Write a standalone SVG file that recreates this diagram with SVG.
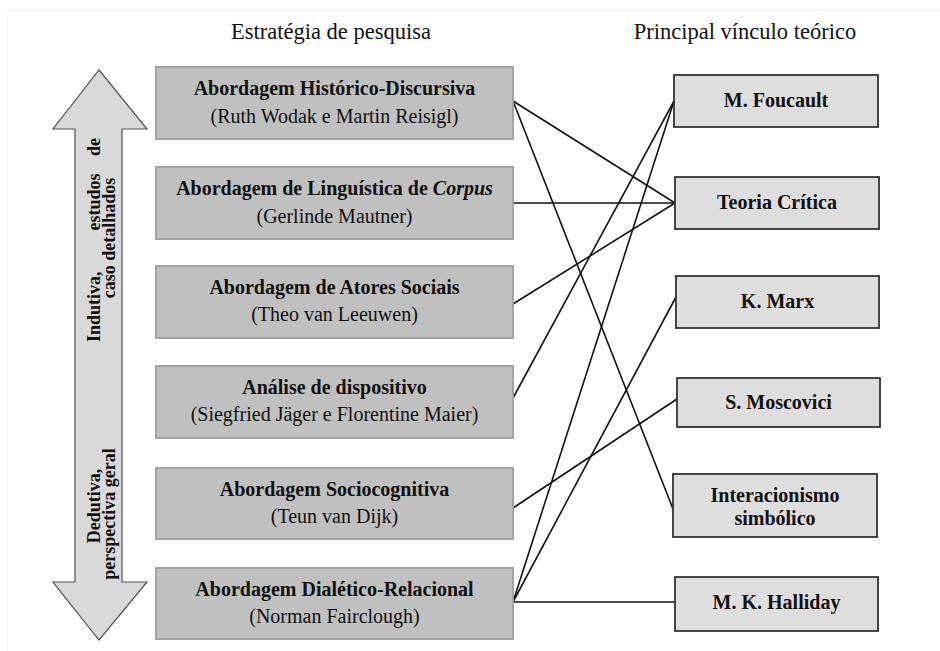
<svg xmlns="http://www.w3.org/2000/svg" width="940" height="651" viewBox="0 0 940 651">
<style>
  .hdr { font-family: "Liberation Serif", "Times New Roman", serif; font-size: 22.5px; fill: #111; text-anchor: middle; }
  .lbox { fill: #c0c0c0; stroke: #a3a3a3; stroke-width: 2; }
  .rbox { fill: #dedede; stroke: #333; stroke-width: 1.8; }
  .b { font-family: "Liberation Serif", "Times New Roman", serif; font-size: 20px; font-weight: bold; fill: #111; text-anchor: middle; }
  .r { font-family: "Liberation Serif", "Times New Roman", serif; font-size: 20px; fill: #111; text-anchor: middle; }
  .at { font-family: "Liberation Serif", "Times New Roman", serif; font-size: 18px; font-weight: bold; fill: #111; }
  .conn line { stroke: #111; stroke-width: 1.6; }
</style>
<rect width="940" height="651" fill="#fff"/>
<line x1="7.5" y1="10.5" x2="940" y2="10.5" stroke="#f2f2f2" stroke-width="1"/>
<line x1="7.5" y1="10.5" x2="7.5" y2="651" stroke="#f2f2f2" stroke-width="1"/>

<text class="hdr" x="331" y="39">Estratégia de pesquisa</text>
<text class="hdr" x="745" y="39">Principal vínculo teórico</text>

<g id="arrow">
  <polygon points="99,70 147,129 122,129 122,582 147,582 99,640 53,582 75,582 75,129 53,129" fill="#d9d9d9" stroke="#555" stroke-width="1.2"/>
  <g transform="translate(100,240) rotate(-90)">
    <text class="at" x="-102" y="0" text-anchor="start">Indutiva,</text>
    <text class="at" x="38" y="0" text-anchor="middle">estudos</text>
    <text class="at" x="102" y="0" text-anchor="end">de</text>
  </g>
  <text class="at" text-anchor="middle" transform="translate(115,238) rotate(-90)">caso detalhados</text>
  <text class="at" text-anchor="middle" transform="translate(100,506) rotate(-90)">Dedutiva,</text>
  <text class="at" text-anchor="middle" transform="translate(115,514) rotate(-90)">perspectiva geral</text>
</g>

<g class="conn" id="connectors">
  <line x1="513" y1="101" x2="675" y2="203"/>
  <line x1="513" y1="101" x2="673" y2="509"/>
  <line x1="513" y1="203" x2="675" y2="203"/>
  <line x1="513" y1="304" x2="675" y2="203"/>
  <line x1="513" y1="398" x2="674" y2="101"/>
  <line x1="513" y1="508" x2="677" y2="399"/>
  <line x1="513" y1="602" x2="674" y2="101"/>
  <line x1="513" y1="602" x2="676" y2="297"/>
  <line x1="513" y1="602" x2="675" y2="602"/>
</g>

<g id="s1"><rect class="lbox" x="156" y="67" width="357" height="72"/>
  <text class="b" x="334.5" y="95">Abordagem Histórico-Discursiva</text>
  <text class="r" x="334.5" y="123">(Ruth Wodak e Martin Reisigl)</text></g>
<g id="s2"><rect class="lbox" x="156" y="167" width="357" height="72"/>
  <text class="b" x="334.5" y="195">Abordagem de Linguística de <tspan font-style="italic">Corpus</tspan></text>
  <text class="r" x="334.5" y="223">(Gerlinde Mautner)</text></g>
<g id="s3"><rect class="lbox" x="156" y="266" width="357" height="72"/>
  <text class="b" x="334.5" y="294">Abordagem de Atores Sociais</text>
  <text class="r" x="334.5" y="321">(Theo van Leeuwen)</text></g>
<g id="s4"><rect class="lbox" x="156" y="366" width="357" height="72"/>
  <text class="b" x="334.5" y="394">Análise de dispositivo</text>
  <text class="r" x="334.5" y="421">(Siegfried Jäger e Florentine Maier)</text></g>
<g id="s5"><rect class="lbox" x="156" y="468" width="357" height="71"/>
  <text class="b" x="334.5" y="496">Abordagem Sociocognitiva</text>
  <text class="r" x="334.5" y="523">(Teun van Dijk)</text></g>
<g id="s6"><rect class="lbox" x="156" y="568" width="357" height="71"/>
  <text class="b" x="334.5" y="596">Abordagem Dialético-Relacional</text>
  <text class="r" x="334.5" y="623">(Norman Fairclough)</text></g>

<g id="t1"><rect class="rbox" x="674" y="75" width="204" height="52"/>
  <text class="b" x="776" y="107">M. Foucault</text></g>
<g id="t2"><rect class="rbox" x="675" y="177" width="204" height="52"/>
  <text class="b" x="777" y="209">Teoria Crítica</text></g>
<g id="t3"><rect class="rbox" x="676" y="276" width="203" height="52"/>
  <text class="b" x="777.5" y="308">K. Marx</text></g>
<g id="t4"><rect class="rbox" x="677" y="378" width="203" height="49"/>
  <text class="b" x="778.5" y="409">S. Moscovici</text></g>
<g id="t5"><rect class="rbox" x="673" y="474" width="204" height="63"/>
  <text class="b" x="775" y="502">Interacionismo</text>
  <text class="b" x="775" y="525">simbólico</text></g>
<g id="t6"><rect class="rbox" x="675" y="577" width="203" height="54"/>
  <text class="b" x="776.5" y="609">M. K. Halliday</text></g>
</svg>
